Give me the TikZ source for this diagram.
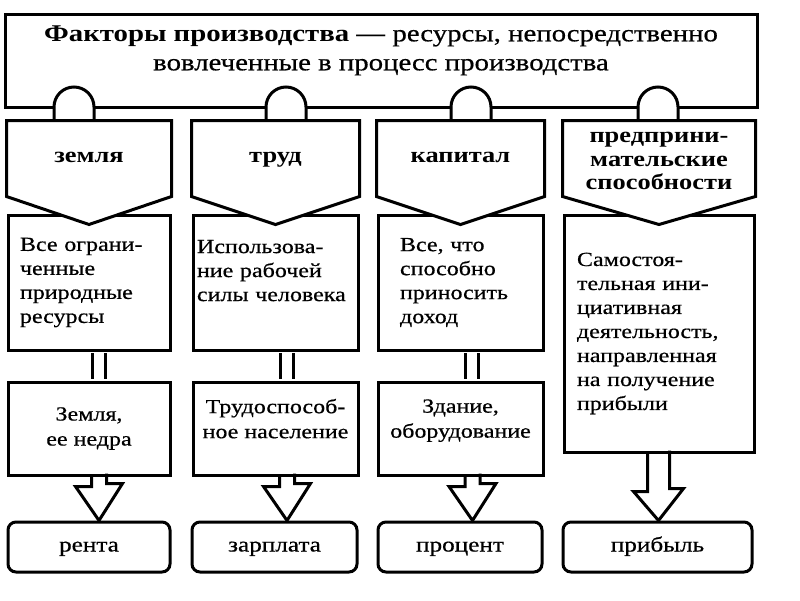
\documentclass[tikz,border=0pt]{standalone}
\usepackage{fontspec}
\setmainfont{Liberation Serif}[FakeStretch=1.2, UprightFeatures={FakeBold=0.6}]
\usetikzlibrary{positioning}

\begin{document}
\begin{tikzpicture}[x=1pt, y=-1pt, line width=3pt,
    titlebox/.style={draw, minimum width=752pt, minimum height=93pt},
    titletext/.style={align=center, font=\fontsize{24}{29}\selectfont},
    tabline/.style={draw, fill=white},
    headshape/.style={draw, fill=white, line join=miter},
    headtext/.style={align=center, font=\bfseries\fontsize{22}{23.5}\selectfont},
    descbox/.style 2 args={draw, minimum width=#1, minimum height=135pt, text width=#2,
        align=left, inner sep=0pt, font=\fontsize{20}{24}\selectfont},
    exbox/.style={draw, minimum width=#1, minimum height=93pt, align=center,
        inner sep=0pt, font=\fontsize{20}{25}\selectfont},
    resbox/.style={draw, rounded corners=8pt, minimum width=#1, minimum height=50pt,
        text height=14pt, text depth=5pt, font=\fontsize{21}{24}\selectfont},
    dblline/.style={double, double distance=10pt, shorten <=1.5pt, shorten >=1.5pt},
    hollow/.style={draw, line join=miter}]
    \useasboundingbox (0,0) rectangle (800,600);

    % title
    \node[titlebox] (top) at (381,60.5) {};
    \node[titletext] (title) at (381,50.5) {{\bfseries Факторы производства —} ресурсы, непосредственно\\вовлеченные в процесс производства};

    % tabs under the title
    \coordinate (t1) at (74,107);
    \coordinate (t2) at (286,107);
    \coordinate (t3) at (471,107);
    \coordinate (t4) at (658,107);
    \draw[tabline] ([xshift=-20pt,yshift=-15pt]t1) -- ++(0,-15) arc (180:360:20) -- ++(0,15);
    \draw[tabline] ([xshift=-20pt,yshift=-15pt]t2) -- ++(0,-15) arc (180:360:20) -- ++(0,15);
    \draw[tabline] ([xshift=-20pt,yshift=-15pt]t3) -- ++(0,-15) arc (180:360:20) -- ++(0,15);
    \draw[tabline] ([xshift=-20pt,yshift=-15pt]t4) -- ++(0,-15) arc (180:360:20) -- ++(0,15);

    % what each factor is
    \node[descbox={162pt}{138pt}] (d1) at (89,282.5) {Все ограни-\\ченные\\природные\\ресурсы};
    \node[descbox={165pt}{157pt}] (d2) at (275.5,282.5) {Использова-\\ние рабочей\\силы человека\\\mbox{}};
    \node[descbox={165pt}{121pt}] (d3) at (460.5,282.5) {Все, что\\способно\\приносить\\доход};
    \node[descbox={190pt}{164pt}, minimum height=237pt] (d4) at (659,333.5) {Самостоя-\\тельная ини-\\циативная\\деятельность,\\направленная\\на получение\\прибыли};

    % factor heads
    \draw[headshape] ([yshift=93pt]d1.north west) -- ([yshift=93pt]d1.north east) -- ([yshift=17pt]d1.north east) -- ([yshift=-11pt]d1.north) -- ([yshift=17pt]d1.north west) -- cycle;
    \draw[headshape] ([yshift=93pt]d2.north west) -- ([yshift=93pt]d2.north east) -- ([yshift=17pt]d2.north east) -- ([yshift=-11pt]d2.north) -- ([yshift=17pt]d2.north west) -- cycle;
    \draw[headshape] ([yshift=93pt]d3.north west) -- ([yshift=93pt]d3.north east) -- ([yshift=17pt]d3.north east) -- ([yshift=-11pt]d3.north) -- ([yshift=17pt]d3.north west) -- cycle;
    \draw[headshape] ([yshift=93pt]d4.north west) -- ([yshift=93pt]d4.north east) -- ([yshift=17pt]d4.north east) -- ([yshift=-11pt]d4.north) -- ([yshift=17pt]d4.north west) -- cycle;
    \node[headtext, anchor=base] (h1) at (89,162) {земля};
    \node[headtext, anchor=base] (h2) at (275.5,162) {труд};
    \node[headtext, anchor=base] (h3) at (460.5,162) {капитал};
    \node[headtext] (h4) at (659,161) {предприни-\\мательские\\способности};

    % examples
    \node[exbox=162pt] (e1) at (89,428.5) {Земля,\\ее недра};
    \node[exbox=165pt, text depth=20pt] (e2) at (275.5,428.5) {Трудоспособ-\\ное население};
    \node[exbox=165pt, text depth=20pt] (e3) at (460.5,428.5) {Здание,\\оборудование};
    \draw[dblline] ([xshift=10pt]d1.south) -- ([xshift=10pt]e1.north);
    \draw[dblline] ([xshift=11.5pt]d2.south) -- ([xshift=11.5pt]e2.north);
    \draw[dblline] ([xshift=11pt]d3.south) -- ([xshift=11pt]e3.north);

    % incomes
    \node[resbox=162pt] (r1) at (89,547) {рента};
    \node[resbox=165pt] (r2) at (274.5,547) {зарплата};
    \node[resbox=164pt] (r3) at (460,547) {процент};
    \node[resbox=189pt] (r4) at (657.5,547) {прибыль};
    \draw[hollow] ([xshift=2.5pt]e1.south) -- ++(0,10) -- ++(-16,0) -- ([xshift=10pt]r1.north) -- ++(23.5,-37) -- ++(-16,0) -- ++(0,-10);
    \draw[hollow] ([xshift=4pt]e2.south) -- ++(0,10) -- ++(-16,0) -- ([xshift=12.5pt]r2.north) -- ++(23.5,-37) -- ++(-16,0) -- ++(0,-10);
    \draw[hollow] ([xshift=4.5pt]e3.south) -- ++(0,10) -- ++(-16,0) -- ([xshift=12.5pt]r3.north) -- ++(23.5,-37) -- ++(-16,0) -- ++(0,-10);
    \draw[hollow] ([xshift=-11.5pt]d4.south) -- ++(0,38) -- ++(-14,0) -- ([xshift=1pt]r4.north) -- ++(25,-32) -- ++(-14,0) -- ++(0,-38);
\end{tikzpicture}
\end{document}
